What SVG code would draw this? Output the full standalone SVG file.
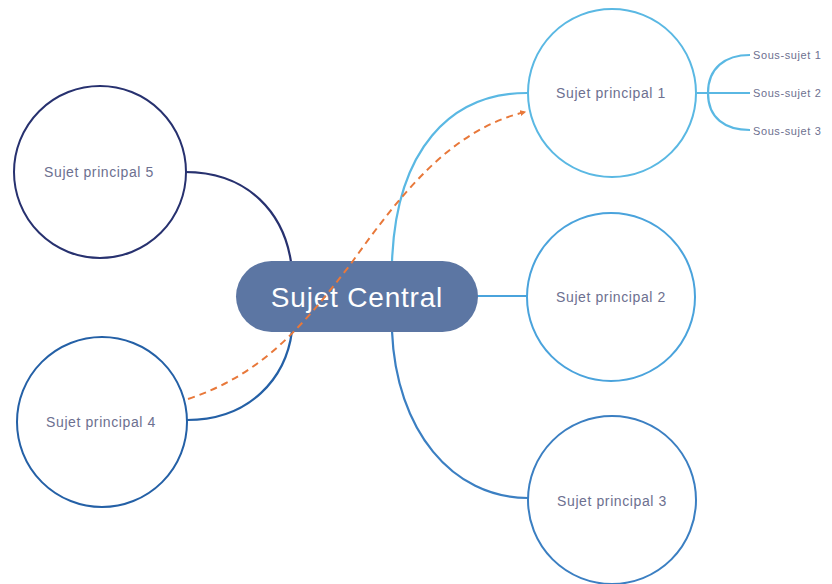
<svg xmlns="http://www.w3.org/2000/svg" width="832" height="584" viewBox="0 0 832 584">
  <defs>
    <marker id="arrow" viewBox="0 0 10 10" refX="8" refY="5" markerWidth="6" markerHeight="6" orient="auto-start-reverse" markerUnits="userSpaceOnUse">
      <path d="M0,0 L10,5 L0,10 z" fill="#e8783a"/>
    </marker>
  </defs>
  <style>
    .topic { fill: #ffffff; stroke-width: 2; }
    .label { font-family: "Liberation Sans", "DejaVu Sans", sans-serif; font-size: 14px; letter-spacing: 0.6px; fill: #6d7090; text-anchor: middle; dominant-baseline: central; }
    .sub { font-family: "Liberation Sans", "DejaVu Sans", sans-serif; font-size: 11px; letter-spacing: 0.6px; fill: #6d7090; dominant-baseline: central; }
    .link { fill: none; stroke-width: 2.2; }
    .relation { fill: none; stroke: #e8783a; stroke-width: 2; stroke-dasharray: 7 5; }
  </style>
  <rect width="832" height="584" fill="#ffffff"/>

  <!-- branches between the central topic and the main topics -->
  <g id="connectors">
    <path class="link" stroke="#27316f" d="M185,172 C250,172 284,215 291,262"/>
    <path class="link" stroke="#2460a6" d="M187,420 C250,420 286,378 292,331"/>
    <path class="link" stroke="#5ab8e3" d="M392,262 C396,150 450,93 527,93"/>
    <path class="link" stroke="#4aa3dc" d="M477,296 L527,296"/>
    <path class="link" stroke="#3b7fc2" d="M392,331 C396,430 452,498 528,498"/>
    <!-- sub-topic fan -->
    <path class="link" stroke="#5ab8e3" stroke-width="1.6" d="M697,93 L750,93 M708,93 C708,68 725,55 750,55 M708,93 C708,118 725,130 750,130"/>
  </g>

  <g id="central">
    <rect x="236" y="261" width="242" height="71" rx="35.5" fill="#5c76a3"/>
    <text x="357" y="297" font-family="'Liberation Sans', 'DejaVu Sans', sans-serif" font-size="28" letter-spacing="0.8" fill="#ffffff" text-anchor="middle" dominant-baseline="central">Sujet Central</text>
  </g>

  <g id="topic1">
    <circle class="topic" cx="612" cy="93" r="84" stroke="#5ab8e3"/>
    <text class="label" x="611" y="93">Sujet principal 1</text>
  </g>
  <g id="topic2">
    <circle class="topic" cx="611" cy="297" r="84" stroke="#4aa3dc"/>
    <text class="label" x="611" y="297">Sujet principal 2</text>
  </g>
  <g id="topic3">
    <circle class="topic" cx="612" cy="500" r="84" stroke="#3b7fc2"/>
    <text class="label" x="612" y="501">Sujet principal 3</text>
  </g>
  <g id="topic4">
    <circle class="topic" cx="102" cy="422" r="85" stroke="#2460a6"/>
    <text class="label" x="101" y="422">Sujet principal 4</text>
  </g>
  <g id="topic5">
    <circle class="topic" cx="100" cy="172" r="86" stroke="#27316f"/>
    <text class="label" x="99" y="172">Sujet principal 5</text>
  </g>

  <g id="subtopic1">
    <text class="sub" x="753" y="55">Sous-sujet 1</text>
  </g>
  <g id="subtopic2">
    <text class="sub" x="753" y="93">Sous-sujet 2</text>
  </g>
  <g id="subtopic3">
    <text class="sub" x="753" y="131">Sous-sujet 3</text>
  </g>

  <!-- relationship arrow, drawn over the central topic -->
  <g id="relations">
    <path class="relation" marker-end="url(#arrow)" d="M188,399 C260,375 300,330 350,265 C400,195 450,130 525,112"/>
  </g>
</svg>
